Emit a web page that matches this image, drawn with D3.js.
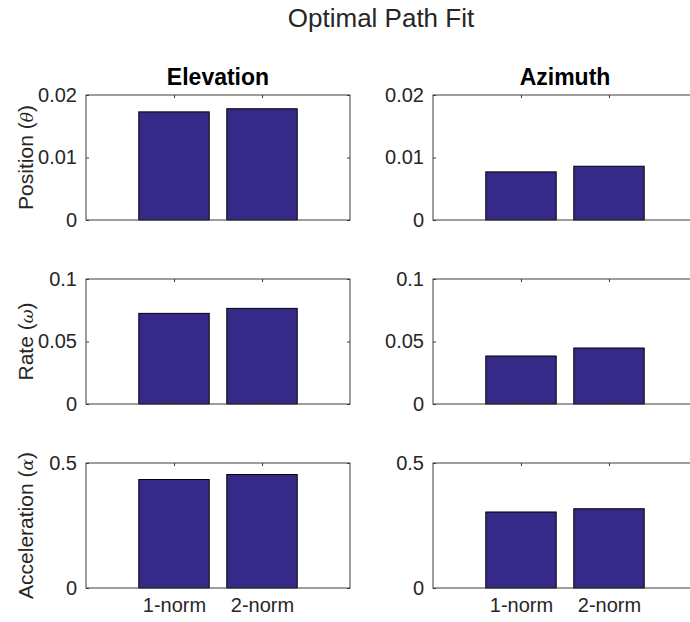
<!DOCTYPE html>
<html>
<head>
<meta charset="utf-8">
<script src="https://cdn.jsdelivr.net/npm/d3@7"></script>
<style>
  html, body { margin: 0; padding: 0; background: #ffffff; }
  svg { display: block; font-family: "Liberation Sans", Arial, Helvetica, sans-serif; }
</style>
</head>
<body>
<svg id="chart" width="690" height="622"></svg>
<script>
// Categories along the x axis of every panel
const categories = ["1-norm", "2-norm"];
// Column headings (one column per angle)
const columnTitles = ["Elevation", "Azimuth"];
// Row quantities and their Greek symbols
const rowNames = ["Position", "Rate", "Acceleration"];
const rowSymbols = ["\u03B8", "\u03C9", "\u03B1"];
// Fit error per row, [1-norm, 2-norm]
const elevationPosition = [0.0173, 0.0178];
const elevationRate = [0.0725, 0.0765];
const elevationAcceleration = [0.434, 0.454];
const azimuthPosition = [0.0077, 0.0086];
const azimuthRate = [0.0384, 0.0448];
const azimuthAcceleration = [0.304, 0.317];
// Y-axis upper limits and tick values per row
const yLimits = [0.02, 0.1, 0.5];
const yTickValues = [[0, 0.01, 0.02], [0, 0.05, 0.1], [0, 0.5]];
const figureTitle = "Optimal Path Fit";

const seriesByColumn = [
  [elevationPosition, elevationRate, elevationAcceleration],
  [azimuthPosition, azimuthRate, azimuthAcceleration]
];

const svg = d3.select("#chart");
const axisColor = "#3c3c3c";
const textColor = "#262626";
const barColor = "#352a87";

const colLeft = [86, 433];
const rowTop = [95, 279, 463];
const panelW = 264;
const panelH = 125;
const tickLen = 3;
const tickFont = 20;

svg.append("text")
  .attr("x", 381).attr("y", 27)
  .attr("text-anchor", "middle")
  .attr("font-size", 26)
  .attr("fill", textColor)
  .text(figureTitle);

columnTitles.forEach((title, c) => {
  seriesByColumn[c].forEach((values, r) => {
    const g = svg.append("g")
      .attr("transform", `translate(${colLeft[c]},${rowTop[r]})`);

    const x = d3.scaleLinear().domain([0, 3]).range([0, panelW]);
    const y = d3.scaleLinear().domain([0, yLimits[r]]).range([panelH, 0]);
    const barW = x(0.8) - x(0);

    // bars
    g.selectAll("rect.bar")
      .data(values)
      .join("rect")
      .attr("class", "bar")
      .attr("x", (d, i) => x(i + 1) - barW / 2)
      .attr("width", barW)
      .attr("y", d => y(d))
      .attr("height", d => y(0) - y(d))
      .attr("fill", barColor)
      .attr("stroke", "#000")
      .attr("stroke-width", 1);

    // box
    g.append("rect")
      .attr("x", 0).attr("y", 0)
      .attr("width", panelW).attr("height", panelH)
      .attr("fill", "none")
      .attr("stroke", axisColor)
      .attr("stroke-width", 1);

    // left axis with labels, inward ticks
    const yAxis = d3.axisLeft(y)
      .tickValues(yTickValues[r])
      .tickFormat(d3.format("~g"))
      .tickSizeInner(-tickLen)
      .tickSizeOuter(0)
      .tickPadding(9);
    const ya = g.append("g").call(yAxis);
    ya.select(".domain").remove();
    ya.selectAll("line").attr("stroke", axisColor);
    ya.selectAll("text")
      .attr("font-size", tickFont)
      .attr("fill", textColor)
      .attr("font-family", "Liberation Sans, Arial, sans-serif");

    // right-side mirror ticks
    const yr = g.append("g").attr("transform", `translate(${panelW},0)`)
      .call(d3.axisRight(y).tickValues(yTickValues[r]).tickSizeInner(-tickLen).tickSizeOuter(0).tickFormat(""));
    yr.select(".domain").remove();
    yr.selectAll("line").attr("stroke", axisColor);

    // bottom axis
    const xAxis = d3.axisBottom(x)
      .tickValues([1, 2])
      .tickFormat(r === 2 ? (d => categories[d - 1]) : "")
      .tickSizeInner(-tickLen)
      .tickSizeOuter(0)
      .tickPadding(10);
    const xa = g.append("g").attr("transform", `translate(0,${panelH})`).call(xAxis);
    xa.select(".domain").remove();
    xa.selectAll("line").attr("stroke", axisColor);
    xa.selectAll("text")
      .attr("font-size", tickFont)
      .attr("fill", textColor)
      .attr("font-family", "Liberation Sans, Arial, sans-serif");

    // top mirror ticks
    const xt = g.append("g")
      .call(d3.axisTop(x).tickValues([1, 2]).tickSizeInner(-tickLen).tickSizeOuter(0).tickFormat(""));
    xt.select(".domain").remove();
    xt.selectAll("line").attr("stroke", axisColor);

    // column heading
    if (r === 0) {
      g.append("text")
        .attr("x", panelW / 2).attr("y", -10)
        .attr("text-anchor", "middle")
        .attr("font-size", 23)
        .attr("font-weight", "bold")
        .attr("fill", "#000")
        .text(title);
    }

    // row label
    if (c === 0) {
      const lbl = g.append("text")
        .attr("transform", `translate(${33 - colLeft[c]},${panelH / 2}) rotate(-90)`)
        .attr("text-anchor", "middle")
        .attr("font-size", 21)
        .attr("fill", textColor);
      lbl.append("tspan").text(rowNames[r] + " (");
      lbl.append("tspan").attr("font-style", "italic")
        .attr("font-family", "DejaVu Serif, serif")
        .attr("font-size", 17)
        .text(rowSymbols[r]);
      lbl.append("tspan").text(")");
    }
  });
});
</script>
</body>
</html>
